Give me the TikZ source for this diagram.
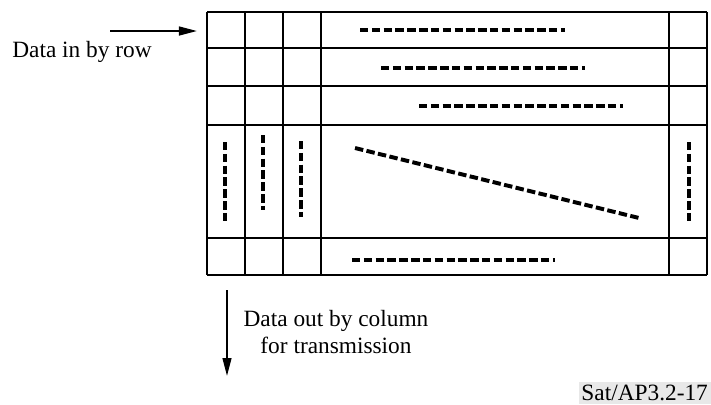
\documentclass[tikz,border=0pt]{standalone}
\usepackage{fontspec}
\setmainfont{Liberation Serif}
\usetikzlibrary{arrows.meta}

\begin{document}
\begin{tikzpicture}[
  x=0.025cm, y=-0.025cm,
  cell/.style={line width=1.4pt},
  trail/.style={line width=2.8pt, dash pattern=on 6pt off 2.4pt},
  edge/.style={-{Triangle[length=0.45cm, width=0.22cm]}, line width=1.4pt},
  lbl/.style={font=\fontsize{16.6}{19.2}\selectfont, align=center, inner sep=0pt}
]
  \useasboundingbox (0,0) rectangle (711,404);

  % interleaver matrix
  \foreach \x in {207,245,283,321,669,707}
    \draw[cell] (\x,12) -- (\x,275);
  \foreach \y in {12,48,86,125,238,275}
    \draw[cell] (207,\y) -- (707,\y);

  % rows as written
  \draw[trail] (360,30) -- (565,30);
  \draw[trail] (381,68) -- (585,68);
  \draw[trail] (419,106) -- (623,106);
  \draw[trail] (355,148) -- (639,218);
  \draw[trail] (352,260) -- (555,260);

  % columns as read
  \draw[trail] (225,142) -- (225,223);
  \draw[trail] (263,135) -- (263,210);
  \draw[trail] (301,141) -- (301,217);
  \draw[trail] (689,142) -- (689,223);

  \node[lbl] (inlbl) at (82,52) {Data in by row};
  \coordinate (inS) at (110,31);
  \coordinate (inE) at (197,31);
  \draw[edge] (inS) -- (inE);

  \node[lbl] (outlbl) at (336,332) {Data out by column\\for transmission};
  \coordinate (outS) at (227,290);
  \coordinate (outE) at (227,376);
  \draw[edge] (outS) -- (outE);

  \node[lbl, fill=gray!18, inner sep=2pt, anchor=south east] (ref) at (711,404) {Sat/AP3.2-17};
\end{tikzpicture}
\end{document}
